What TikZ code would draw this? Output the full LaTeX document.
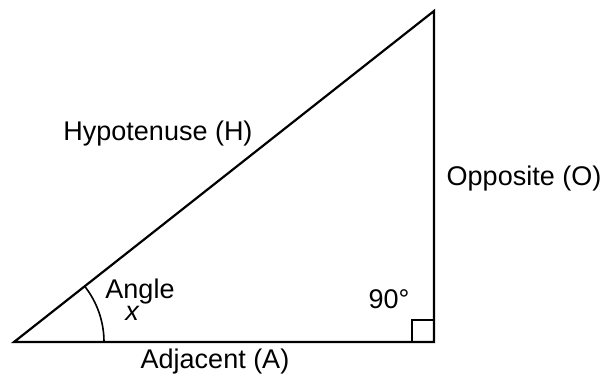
\documentclass[tikz,border=0pt]{standalone}
\usepackage{fontspec}
\setmainfont{Liberation Sans}
\begin{document}
\begin{tikzpicture}[x=1pt,y=-1pt,
  edge/.style={line width=2.2pt,line join=miter},
  thin/.style={line width=1.6pt},
  lbl/.style={font=\fontsize{27}{30}\selectfont,inner sep=0pt}]
\useasboundingbox (0,0) rectangle (607,379);
\coordinate (A) at (14,342);
\coordinate (B) at (434,342);
\coordinate (C) at (434,11);
\draw[edge] (A) -- (B) -- (C) -- cycle;
\draw[thin] (412,342) -- (412,320) -- (434,320);
\draw[thin] (104,342) arc[start angle=0,end angle=-38.2,radius=90];
\node[lbl] (hyp) at (158,134) {Hypotenuse (H)};
\node[lbl] (opp) at (524,179) {Opposite (O)};
\node[lbl,anchor=base] (ang) at (140,298) {Angle};
\node[lbl,anchor=base] (x) at (132,320) {\itshape x};
\node[lbl] (ninety) at (389,299) {90°};
\node[lbl] (adj) at (215,362) {Adjacent (A)};
\end{tikzpicture}
\end{document}
